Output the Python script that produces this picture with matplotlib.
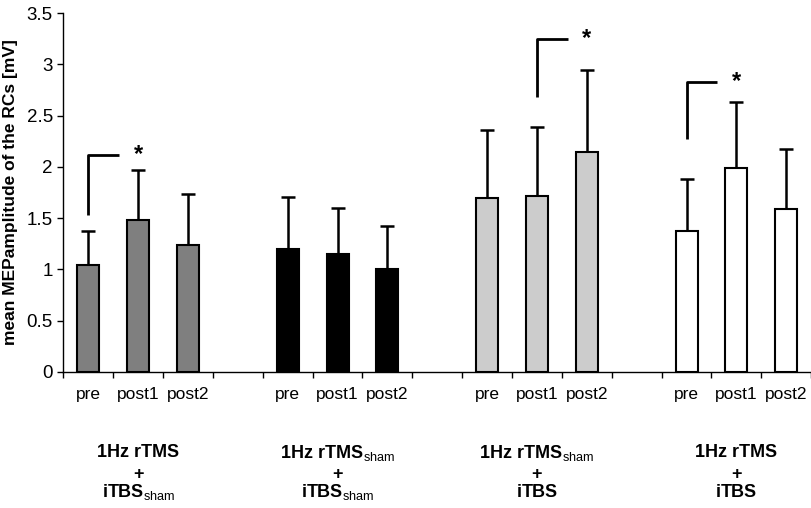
# MEP amplitude of the RCs across four stimulation protocols
import numpy as np
import matplotlib.pyplot as plt
from matplotlib.ticker import FuncFormatter

plt.rcParams['font.family'] = 'Liberation Sans'
plt.rcParams['mathtext.fontset'] = 'custom'
plt.rcParams['mathtext.rm'] = 'Liberation Sans'
plt.rcParams['mathtext.bf'] = 'Liberation Sans:bold'

# data
times = ["pre", "post1", "post2"]
group_labels = [
    (r"$\mathbf{1Hz\ rTMS}$", r"$\mathbf{iTBS}_{\mathrm{sham}}$"),
    (r"$\mathbf{1Hz\ rTMS}_{\mathrm{sham}}$", r"$\mathbf{iTBS}_{\mathrm{sham}}$"),
    (r"$\mathbf{1Hz\ rTMS}_{\mathrm{sham}}$", r"$\mathbf{iTBS}$"),
    (r"$\mathbf{1Hz\ rTMS}$", r"$\mathbf{iTBS}$"),
]
means = [
    [1.04, 1.48, 1.24],
    [1.20, 1.15, 1.00],
    [1.70, 1.72, 2.15],
    [1.37, 1.99, 1.59],
]
upper = [
    [1.37, 1.97, 1.74],
    [1.71, 1.60, 1.42],
    [2.36, 2.39, 2.95],
    [1.88, 2.63, 2.17],
]
colors = ["#7f7f7f", "#000000", "#cccccc", "#ffffff"]

# significance brackets: (group, start bar, bottom, top, star bar)
brackets = [
    (0, 0, 1.53, 2.12, 1),
    (2, 1, 2.68, 3.25, 2),
    (3, 0, 2.27, 2.83, 1),
]

fig = plt.figure(figsize=(8.12, 5.08), dpi=100)
ax = fig.add_axes([0.078, 0.268, 0.921, 0.706])

width = 0.44
for g in range(4):
    x = np.arange(3) + 4 * g
    m = np.array(means[g])
    err = np.array(upper[g]) - m
    ax.bar(x, m, width, color=colors[g], edgecolor='black', linewidth=1.5,
           zorder=2)
    ax.errorbar(x, m, yerr=[np.zeros(3), err], fmt='none', ecolor='black',
                elinewidth=1.8, capsize=5, capthick=1.8, zorder=1)

for g, b, lo, hi, s in brackets:
    x0 = 4 * g + b
    ax.plot([x0, x0, x0 + 0.62], [lo, hi, hi], color='black', lw=2,
            solid_capstyle='butt')
    ax.text(4 * g + s, hi, "*", ha='center', va='center', fontsize=17,
            fontweight='bold')

ax.set_xlim(-0.5, 14.5)
ax.set_ylim(0, 3.5)
ax.set_yticks(np.arange(0, 3.51, 0.5))
ax.yaxis.set_major_formatter(FuncFormatter(lambda v, p: "%g" % v))
ax.tick_params(axis='y', labelsize=13.5, length=4, width=1, direction='out')

ax.set_xticks(np.arange(-0.5, 14.6, 1))
ax.set_xticklabels([])
ax.tick_params(axis='x', which='major', length=4, width=1, direction='out')
centers = [4 * g + i for g in range(4) for i in range(3)]
ax.set_xticks(centers, minor=True)
ax.set_xticklabels(times * 4, minor=True)
ax.tick_params(axis='x', which='minor', length=0, labelsize=12.5, pad=11)

for side in ['top', 'right']:
    ax.spines[side].set_visible(False)
ax.spines['left'].set_linewidth(1)
ax.spines['bottom'].set_linewidth(1)

ax.set_ylabel("mean MEPamplitude of the RCs [mV]", fontsize=12.5,
              fontweight='bold', labelpad=6)

tr = ax.get_xaxis_transform()
for g in range(4):
    xc = 4 * g + 1
    top, bottom = group_labels[g]
    ax.text(xc, -0.226, top, transform=tr, ha='center', va='center',
            fontsize=13)
    ax.text(xc, -0.287, "+", transform=tr, ha='center', va='center',
            fontsize=13, fontweight='bold')
    ax.text(xc, -0.336, bottom, transform=tr, ha='center', va='center',
            fontsize=13)

fig.savefig("out.png", dpi=100)
